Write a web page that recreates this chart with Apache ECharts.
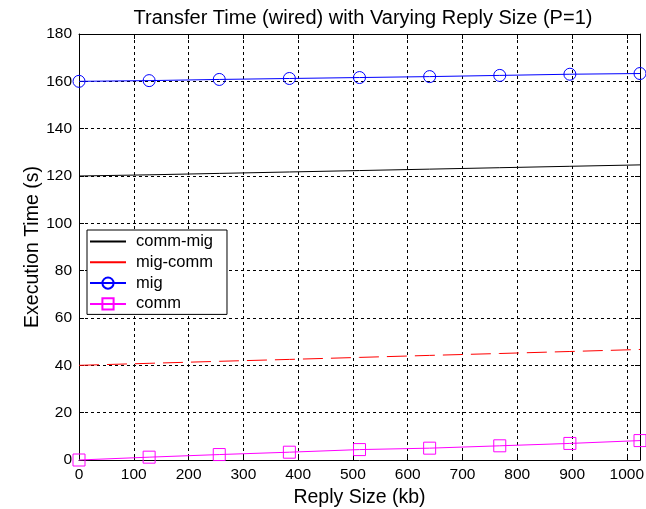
<!DOCTYPE html>
<html>
<head>
<meta charset="utf-8">
<style>
  html, body { margin: 0; padding: 0; background: #fff; }
  #chart { width: 646px; height: 509px; }
</style>
<script src="https://cdn.jsdelivr.net/npm/echarts@6/dist/echarts.min.js"></script>
</head>
<body>
<div id="chart"></div>
<script>
// Reply sizes (kb) and measured execution times (s)
const replySizes = [0, 128, 256, 384, 512, 640, 768, 896, 1024];
const commMig = [120, 120.5, 121.1, 121.7, 122.3, 122.9, 123.5, 124.1, 124.7];
const migComm = [40, 40.85, 41.7, 42.5, 43.35, 44.2, 45.0, 45.85, 46.7];
const mig = [160, 160.3, 160.8, 161.2, 161.6, 162.0, 162.5, 163.0, 163.3];
const comm = [0, 1.2, 2.3, 3.3, 4.4, 5.0, 6.0, 7.0, 8.2];
const yTicks = [0, 20, 40, 60, 80, 100, 120, 140, 160, 180];

const FONT = '"Liberation Sans", Arial, sans-serif';
const pairs = (ys) => replySizes.map((x, i) => [x, ys[i]]);

const chart = echarts.init(document.getElementById('chart'), null, { renderer: 'canvas' });

const gridDash = { color: '#000', width: 1, type: [3, 3] };
const hiddenSymbol = { opacity: 0 };

chart.setOption({
  animation: false,
  backgroundColor: '#fff',
  title: {
    text: 'Transfer Time (wired) with Varying Reply Size (P=1)',
    left: 358,
    textAlign: 'center',
    top: 3,
    textStyle: { fontFamily: FONT, fontSize: 20, fontWeight: 'normal', color: '#000' }
  },
  grid: { left: 79, right: 6, top: 34, bottom: 49, containLabel: false, outerBoundsMode: 'none' },
  legend: {
    orient: 'vertical',
    left: 87,
    top: 230,
    padding: [3, 14, 2, 2],
    itemWidth: 36,
    itemHeight: 14,
    itemGap: 3.8,
    backgroundColor: '#fff',
    borderColor: '#000',
    borderWidth: 1,
    textStyle: { fontFamily: FONT, fontSize: 16.5, color: '#000', padding: [0, 0, 0, 5] },
    data: [
      { name: 'comm-mig', itemStyle: hiddenSymbol },
      { name: 'mig-comm', itemStyle: hiddenSymbol, lineStyle: { type: 'solid' } },
      { name: 'mig' },
      { name: 'comm' }
    ]
  },
  xAxis: [
    {
      type: 'value', min: 0, max: 1024, interval: 100,
      name: 'Reply Size (kb)', nameLocation: 'middle', nameGap: 27,
      nameTextStyle: { fontFamily: FONT, fontSize: 19.5, color: '#000', verticalAlign: 'top' },
      axisLine: { show: true, onZero: false, lineStyle: { color: '#000' } },
      axisTick: { show: true, inside: true, length: 5, lineStyle: { color: '#000' } },
      axisLabel: { fontFamily: FONT, fontSize: 15.5, color: '#000', margin: 7, showMaxLabel: false,
                   formatter: (v) => String(v) },
      splitLine: { show: true, lineStyle: gridDash }
    },
    {
      type: 'value', min: 0, max: 1024, interval: 100, position: 'top',
      axisLine: { show: true, onZero: false, lineStyle: { color: '#000' } },
      axisTick: { show: true, inside: true, length: 5, lineStyle: { color: '#000' } },
      axisLabel: { show: false },
      splitLine: { show: false }
    }
  ],
  yAxis: [
    {
      type: 'value', min: yTicks[0], max: yTicks[yTicks.length - 1], interval: 20,
      name: 'Execution Time (s)', nameLocation: 'middle', nameGap: 36, nameMoveOverlap: false,
      nameTextStyle: { fontFamily: FONT, fontSize: 19.5, color: '#000' },
      axisLine: { show: true, onZero: false, lineStyle: { color: '#000' } },
      axisTick: { show: true, inside: true, length: 5, lineStyle: { color: '#000' } },
      axisLabel: { fontFamily: FONT, fontSize: 15.5, color: '#000', margin: 7 },
      splitLine: { show: true, lineStyle: gridDash }
    },
    {
      type: 'value', min: yTicks[0], max: yTicks[yTicks.length - 1], interval: 20, position: 'right',
      axisLine: { show: true, onZero: false, lineStyle: { color: '#000' } },
      axisTick: { show: true, inside: true, length: 5, lineStyle: { color: '#000' } },
      axisLabel: { show: false },
      splitLine: { show: false }
    }
  ],
  series: [
    {
      name: 'comm-mig', type: 'line', data: pairs(commMig),
      showSymbol: false, symbol: 'none',
      lineStyle: { color: '#000', width: 1 },
      itemStyle: { color: '#000' },
      z: 3
    },
    {
      name: 'mig-comm', type: 'line', data: pairs(migComm),
      showSymbol: false, symbol: 'none',
      lineStyle: { color: '#ff0000', width: 1, type: [20, 8] },
      itemStyle: { color: '#ff0000' },
      z: 3
    },
    {
      name: 'mig', type: 'line', data: pairs(mig),
      symbol: 'circle', symbolSize: 12,
      lineStyle: { color: '#0000ff', width: 1 },
      itemStyle: { color: 'rgba(0,0,0,0)', borderColor: '#0000ff', borderWidth: 1 },
      clip: false,
      z: 4
    },
    {
      name: 'comm', type: 'line', data: pairs(comm),
      symbol: 'rect', symbolSize: 12,
      lineStyle: { color: '#ff00ff', width: 1 },
      itemStyle: { color: 'rgba(0,0,0,0)', borderColor: '#ff00ff', borderWidth: 1 },
      clip: false,
      z: 4
    }
  ]
});
</script>
</body>
</html>
